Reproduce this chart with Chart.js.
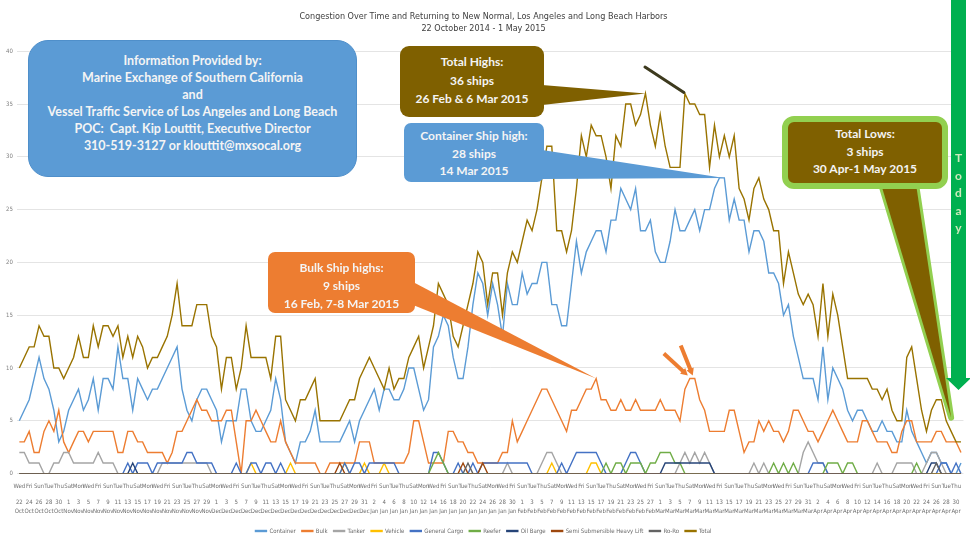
<!DOCTYPE html>
<html>
<head>
<meta charset="utf-8">
<title>Congestion Over Time, Los Angeles and Long Beach Harbors</title>
<script src="https://cdn.jsdelivr.net/npm/chart.js@4.4.1/dist/chart.umd.min.js"></script>
<style>
  html, body { margin: 0; padding: 0; background: #fff; }
  #wrap { position: relative; width: 970px; height: 546px; overflow: hidden; }
  .box {
    position: absolute; box-sizing: border-box; color: #f4f4f4;
    font-family: Lato, "Open Sans", sans-serif; font-weight: 700;
    text-align: center; white-space: nowrap;
  }
  #info { left: 28px; top: 40px; width: 329px; height: 137px; background: #5b9bd5;
          border: 1px solid #4f8fca; border-radius: 20px; font-size: 12.5px; line-height: 17px; padding-top: 11px; }
  #totalHigh { left: 400px; top: 46px; width: 144px; height: 71px; background: #7f6000;
               border-radius: 9px; font-size: 12px; line-height: 18.5px; padding-top: 7px; }
  #containerHigh { left: 404px; top: 123px; width: 140px; height: 59px; background: #5b9bd5;
                   border-radius: 7px; font-size: 12px; line-height: 17.5px; padding-top: 4px; }
  #bulkHigh { left: 268px; top: 252px; width: 147px; height: 61px; background: #ed7d31;
              border-radius: 7px; font-size: 12px; line-height: 18px; padding-top: 7px; }
  #totalLow { left: 782px; top: 116px; width: 166px; height: 73px; background: #7f6000;
              border: 6px solid #92d050; border-radius: 12px; font-size: 12px; line-height: 17.5px; padding-top: 3px; }
  #today { left: 951px; top: 149px; width: 15px; font-size: 12px; line-height: 17.5px; color: #cdeabb; }
</style>
</head>
<body>
<div id="wrap">
  <canvas id="harborChart" width="970" height="546"></canvas>
  <div class="box" id="info">Information Provided by:<br>Marine Exchange of Southern California<br>and<br>Vessel Traffic Service of Los Angeles and Long Beach<br>POC:&nbsp; Capt. Kip Louttit, Executive Director<br>310-519-3127 or klouttit@mxsocal.org</div>
  <div class="box" id="totalHigh">Total Highs:<br>36 ships<br>26 Feb &amp; 6 Mar 2015</div>
  <div class="box" id="containerHigh">Container Ship high:<br>28 ships<br>14 Mar 2015</div>
  <div class="box" id="bulkHigh">Bulk Ship highs:<br>9 ships<br>16 Feb, 7-8 Mar 2015</div>
  <div class="box" id="totalLow">Total Lows:<br>3 ships<br>30 Apr-1 May 2015</div>
  <div class="box" id="today">T<br>o<br>d<br>a<br>y</div>
</div>
<script>
// one point per day, 22 Oct 2014 .. 1 May 2015
const startDay = Date.UTC(2014, 9, 22);
const dayCount = 192;
const weekdayNames = ['Sun', 'Mon', 'Tue', 'Wed', 'Thu', 'Fri', 'Sat'];
const monthNames = ['Jan', 'Feb', 'Mar', 'Apr', 'May', 'Jun', 'Jul', 'Aug', 'Sep', 'Oct', 'Nov', 'Dec'];
const yTicks = [0, 5, 10, 15, 20, 25, 30, 35, 40];

const seriesNames = ['Container', 'Bulk', 'Tanker', 'Vehicle', 'General Cargo', 'Reefer',
  'Oil Barge', 'Semi Submersible Heavy Lift', 'Ro-Ro', 'Total'];
const seriesColors = ['#5b9bd5', '#ed7d31', '#a5a5a5', '#ffc000', '#4472c4', '#70ad47',
  '#264478', '#9e480e', '#636363', '#997300'];

const container = [
  5,6,7,9,11,9,8,6,3,4,
  6,7,8,6,7,9,6,9,9,8,
  12,9,9,6,9,8,7,8,8,9,
  10,11,12,8,6,5,7,8,8,7,
  6,3,5,5,5,8,8,5,4,4,
  5,6,9,7,3,2,1,3,3,4,
  6,3,3,3,3,3,4,5,3,5,
  6,7,8,6,8,8,7,7,8,10,
  10,8,6,7,12,13,15,14,11,9,
  9,12,16,19,18,15,18,16,13,18,
  16,16,19,17,18,18,20,20,16,16,
  14,14,18,22,19,21,22,23,23,21,
  24,24,27,26,25,27,23,23,24,21,
  20,20,22,25,23,23,24,25,23,25,
  25,27,28,28,24,26,24,24,21,23,
  23,22,19,19,18,15,16,13,11,9,
  9,9,7,12,7,10,9,8,6,5,
  6,6,5,4,4,5,4,4,3,3,
  6,4,3,2,1,2,2,1,1,0,
  0,1
];
const bulk = [
  3,3,4,2,2,4,5,4,6,3,
  2,3,4,4,3,4,4,4,4,4,
  2,2,4,4,3,3,2,2,2,2,
  1,2,4,4,5,6,7,6,6,5,
  5,5,6,6,3,0,5,5,6,5,
  4,3,3,5,3,2,1,1,1,1,
  1,0,0,1,1,1,1,1,1,3,
  3,3,1,1,1,1,1,1,1,2,
  5,5,3,1,1,1,1,4,4,3,
  3,2,2,1,1,1,1,1,2,2,
  5,3,4,5,6,7,8,8,7,6,
  5,4,6,6,7,8,8,9,7,7,
  6,6,7,6,6,7,6,6,6,6,
  7,6,6,6,5,8,9,9,7,6,
  4,4,4,4,6,6,4,2,3,3,
  5,4,5,4,4,3,4,6,6,5,
  4,4,3,4,5,6,5,4,3,3,
  3,5,5,4,3,3,3,2,2,4,
  5,5,3,3,3,3,4,4,3,3,
  3,2
];
const tanker = [
  2,2,1,1,1,0,0,1,1,2,
  2,1,1,1,1,1,2,1,1,1,
  0,0,0,0,0,0,0,0,0,1,
  1,1,1,1,1,1,1,1,1,0,
  0,0,0,0,0,0,0,0,0,0,
  0,0,0,0,0,0,0,0,0,0,
  0,0,0,0,0,0,0,0,0,0,
  0,0,0,0,0,0,0,0,0,0,
  0,0,0,0,0,0,0,0,0,0,
  0,0,0,0,0,0,0,0,0,1,
  0,0,0,0,0,0,1,2,2,1,
  0,0,0,0,0,0,0,0,0,0,
  0,0,0,0,0,0,0,0,0,0,
  0,0,0,0,1,2,1,2,1,2,
  1,0,0,0,0,0,0,0,0,1,
  0,1,0,0,0,0,0,0,0,2,
  3,2,1,1,0,0,0,0,0,0,
  0,0,0,0,1,0,0,0,1,1,
  1,1,0,0,1,2,2,1,0,0,
  0,0
];
const vehicle = [
  0,0,0,0,0,0,0,0,0,0,
  0,0,0,0,0,0,0,0,0,0,
  0,0,0,0,0,0,0,0,0,0,
  0,0,0,0,0,0,0,0,0,0,
  0,0,0,0,0,0,0,1,0,0,
  0,0,0,0,0,1,0,0,0,0,
  0,0,0,0,0,0,1,0,0,0,
  1,0,0,0,1,0,0,0,0,0,
  0,0,0,0,0,0,0,0,0,0,
  0,0,0,0,0,0,0,0,0,0,
  0,0,0,0,0,0,0,0,1,0,
  0,0,0,0,0,0,1,1,0,0,
  0,0,0,0,0,0,0,0,0,0,
  0,0,0,0,0,0,0,0,0,0,
  0,0,0,0,0,0,0,0,0,0,
  0,0,0,0,0,0,0,0,0,0,
  0,0,0,0,0,0,0,0,0,0,
  0,0,0,0,0,0,0,0,0,0,
  0,0,0,0,0,0,0,0,0,0,
  0,0
];
const generalCargo = [
  0,0,0,0,0,0,0,0,0,0,
  0,0,0,0,0,0,0,0,0,0,
  0,0,1,0,1,1,1,0,1,1,
  1,1,1,1,2,2,1,1,1,1,
  0,0,0,0,1,0,0,1,1,0,
  1,1,0,1,0,0,0,0,0,0,
  0,0,0,0,0,0,1,0,1,1,
  0,1,1,1,1,1,1,0,0,0,
  0,0,0,0,2,2,1,0,0,1,
  0,0,1,0,1,1,1,1,1,1,
  1,1,1,1,0,0,0,0,0,0,
  1,0,1,2,2,2,2,2,1,0,
  0,0,0,1,2,2,1,0,0,0,
  0,0,0,0,0,0,0,0,0,0,
  0,0,0,0,0,0,0,0,0,0,
  0,0,0,0,0,0,0,0,0,0,
  0,1,1,1,0,0,0,0,0,0,
  0,0,0,0,0,0,0,0,0,0,
  0,0,0,0,0,0,0,1,1,0,
  1,0
];
const reefer = [
  0,0,0,0,0,0,0,0,0,0,
  0,0,0,0,0,0,0,0,0,0,
  0,0,0,0,0,0,0,0,0,0,
  0,0,0,0,0,0,0,0,0,0,
  0,0,0,0,0,0,0,0,0,0,
  0,0,0,0,0,0,0,0,0,0,
  0,0,0,0,0,0,0,0,0,0,
  0,0,0,0,0,0,0,0,0,0,
  0,0,0,0,1,2,1,0,0,0,
  0,0,0,0,0,0,0,0,0,0,
  0,0,0,0,0,0,0,0,0,0,
  0,0,0,0,0,0,0,0,0,1,
  0,1,1,0,1,1,1,0,1,1,
  2,2,2,1,1,0,0,0,0,0,
  0,0,0,0,0,0,0,0,0,0,
  0,0,0,1,0,1,0,1,0,0,
  0,0,0,0,1,1,1,0,1,1,
  0,0,0,0,0,0,0,0,0,0,
  0,0,1,0,0,0,0,0,0,0,
  0,0
];
const oilBarge = [
  0,0,0,0,0,0,0,0,0,0,
  0,0,0,0,0,0,0,0,0,0,
  0,0,0,1,0,0,0,0,0,0,
  0,0,0,0,0,0,0,0,0,0,
  0,0,0,0,0,0,0,0,0,0,
  0,0,0,0,0,0,0,0,0,0,
  0,0,0,0,0,0,0,0,0,0,
  0,0,0,0,0,0,0,0,0,0,
  0,0,0,0,0,0,0,0,0,0,
  0,0,0,0,0,0,0,0,0,0,
  0,0,0,0,0,0,0,0,0,0,
  0,0,0,0,0,0,0,0,0,0,
  0,0,0,0,0,0,0,0,0,0,
  0,1,1,1,1,1,1,1,1,1,
  1,0,0,0,0,0,0,0,0,0,
  0,0,0,0,0,0,0,0,0,0,
  0,0,0,0,0,0,0,0,0,0,
  0,0,0,0,0,0,0,0,0,0,
  0,0,0,0,0,1,1,0,0,0,
  0,0
];
const semiSub = [
  0,0,0,0,0,0,0,0,0,0,
  0,0,0,0,0,0,0,0,0,0,
  0,0,0,0,0,0,0,0,0,0,
  0,0,0,0,0,0,0,0,0,0,
  0,0,0,0,0,0,0,0,0,0,
  0,0,0,0,0,0,0,0,0,0,
  0,0,0,0,0,1,0,0,0,0,
  0,0,0,0,0,0,0,0,0,0,
  0,0,0,0,0,0,0,0,0,0,
  1,0,0,0,1,0,0,0,0,0,
  0,0,0,0,0,0,0,0,0,0,
  0,0,0,0,0,0,0,0,0,0,
  0,0,0,0,0,0,0,0,0,0,
  0,0,0,0,0,0,0,0,0,0,
  0,0,0,0,0,0,0,0,0,0,
  0,0,0,0,0,0,0,0,0,0,
  0,0,0,0,0,0,0,0,0,0,
  0,0,0,0,0,0,0,0,0,0,
  0,0,0,0,0,0,0,0,0,0,
  0,0
];
const roRo = [
  0,0,0,0,0,0,0,0,0,0,
  0,0,0,0,0,0,0,0,0,0,
  0,0,0,0,0,0,0,0,0,0,
  0,0,0,0,0,0,0,0,0,0,
  0,0,0,0,0,0,0,0,0,0,
  0,0,0,0,0,0,0,0,0,0,
  0,0,0,0,0,0,0,0,0,0,
  0,0,0,0,0,0,0,0,0,0,
  0,0,0,0,0,0,0,0,0,0,
  0,1,0,0,0,0,0,0,0,0,
  0,0,0,0,0,0,0,0,0,0,
  0,0,0,0,0,0,0,0,0,0,
  0,0,0,0,0,0,0,0,0,0,
  0,0,0,0,0,0,0,0,0,0,
  0,0,0,0,0,0,0,0,0,0,
  0,0,0,0,0,0,0,0,0,0,
  0,0,0,0,0,0,0,0,0,0,
  0,0,0,0,0,0,0,0,0,0,
  0,0,0,0,0,0,1,0,0,0,
  0,0
];
const total = [
  10,11,12,12,14,13,13,10,10,9,
  10,11,13,11,11,14,12,14,14,13,
  14,11,13,11,13,12,10,11,11,12,
  13,15,18,14,14,14,16,16,16,13,
  12,8,11,11,8,10,14,11,11,11,
  11,9,13,13,7,6,5,7,7,8,
  9,5,5,5,5,5,6,7,7,9,
  10,11,10,9,8,10,8,9,9,11,
  12,13,10,12,14,18,17,16,13,12,
  14,16,18,21,20,16,19,19,15,19,
  21,20,22,24,23,25,28,31,31,23,
  23,21,23,27,32,30,33,32,32,30,
  27,32,31,35,35,33,34,36,33,31,
  34,31,29,29,29,36,35,35,34,34,
  29,33,30,32,30,32,27,26,24,27,
  28,26,25,23,23,18,21,19,17,16,
  17,16,13,18,13,17,15,12,9,9,
  9,9,9,8,8,7,8,6,5,5,
  11,12,9,6,4,6,7,7,5,4,
  3,3
];
const seriesData = [container, bulk, tanker, vehicle, generalCargo, reefer, oilBarge, semiSub, roRo, total];

// x labels: weekday, gap, day number, month
const days = [];
for (let i = 0; i < dayCount; i++) {
  const d = new Date(startDay + i * 86400000);
  days.push([weekdayNames[d.getUTCDay()], '', String(d.getUTCDate()), monthNames[d.getUTCMonth()]]);
}

const narrow = "'Liberation Sans Narrow', 'DejaVu Sans Condensed', sans-serif";

// callout pointers, tip given in data units so it follows the scales
const wedges = [
  { color: '#7f6000', base: [[542, 85], [542, 105]], tip: [127, 36] },
  { color: '#5b9bd5', base: [[542, 150], [542, 179]], tip: [143, 28] },
  { color: '#ed7d31', base: [[413, 282], [413, 305]], tip: [117, 9] }
];

const calloutPlugin = {
  id: 'callouts',
  afterDatasetsDraw(chart) {
    const ctx = chart.ctx;
    const xs = chart.scales.x, ys = chart.scales.y;
    const px = (i, v) => [xs.getPixelForValue(i), ys.getPixelForValue(v)];
    ctx.save();

    wedges.forEach(w => {
      const t = px(w.tip[0], w.tip[1]);
      ctx.beginPath();
      ctx.moveTo(w.base[0][0], w.base[0][1]);
      ctx.lineTo(t[0], t[1]);
      ctx.lineTo(w.base[1][0], w.base[1][1]);
      ctx.closePath();
      ctx.fillStyle = w.color;
      ctx.fill();
    });

    // dark line to the second total high (6 Mar)
    const p2 = px(135, 36);
    ctx.beginPath();
    ctx.moveTo(645, 67);
    ctx.lineTo(p2[0] - 1, p2[1] - 1);
    ctx.strokeStyle = '#3d3a1e';
    ctx.lineWidth = 3;
    ctx.lineCap = 'round';
    ctx.stroke();

    // orange arrows at the 7-8 Mar bulk highs
    [[136, -26, -25], [137, -14, -33]].forEach(a => {
      const p = px(a[0], 9);
      const ex = p[0] - 2, ey = p[1] - 3;
      const sx = p[0] + a[1], sy = p[1] + a[2];
      const ang = Math.atan2(ey - sy, ex - sx);
      ctx.beginPath();
      ctx.moveTo(sx, sy);
      ctx.lineTo(ex - 4 * Math.cos(ang), ey - 4 * Math.sin(ang));
      ctx.strokeStyle = '#ed7d31';
      ctx.lineWidth = 4;
      ctx.lineCap = 'butt';
      ctx.stroke();
      ctx.beginPath();
      ctx.moveTo(ex, ey);
      ctx.lineTo(ex - 8 * Math.cos(ang - 0.5), ey - 8 * Math.sin(ang - 0.5));
      ctx.lineTo(ex - 8 * Math.cos(ang + 0.5), ey - 8 * Math.sin(ang + 0.5));
      ctx.closePath();
      ctx.fillStyle = '#ed7d31';
      ctx.fill();
    });

    // total lows pointer with green outline
    const low = px(189, 5.3);
    ctx.beginPath();
    ctx.moveTo(881, 184);
    ctx.lineTo(low[0], low[1]);
    ctx.lineTo(916, 184);
    ctx.closePath();
    ctx.lineJoin = 'round';
    ctx.strokeStyle = '#92d050';
    ctx.lineWidth = 6;
    ctx.stroke();
    ctx.fillStyle = '#7f6000';
    ctx.fill();

    // "Today" arrow
    ctx.beginPath();
    ctx.moveTo(951, 0);
    ctx.lineTo(966, 0);
    ctx.lineTo(966, 378);
    ctx.lineTo(971, 378);
    ctx.lineTo(958.5, 390);
    ctx.lineTo(946, 378);
    ctx.lineTo(951, 378);
    ctx.closePath();
    ctx.fillStyle = '#00b050';
    ctx.fill();

    ctx.restore();
  }
};

const datasets = seriesNames.map((name, k) => ({
  label: name,
  data: seriesData[k],
  borderColor: seriesColors[k],
  backgroundColor: seriesColors[k],
  borderWidth: 1.4,
  pointRadius: 0,
  tension: 0,
  order: seriesNames.length - 1 - k
}));

new Chart(document.getElementById('harborChart'), {
  type: 'line',
  data: { labels: days, datasets: datasets },
  options: {
    responsive: false,
    animation: false,
    layout: { padding: { left: 2, right: 5, bottom: 2 } },
    plugins: {
      title: {
        display: true,
        text: ['Congestion Over Time and Returning to New Normal, Los Angeles and Long Beach Harbors',
               '22 October 2014 - 1 May 2015'],
        color: '#404040',
        font: { family: narrow, size: 9, weight: 'normal', lineHeight: 1.4 },
        padding: { top: 10, bottom: 16 }
      },
      legend: {
        position: 'bottom',
        labels: {
          boxWidth: 11, boxHeight: 1, padding: 6, color: '#6a6a6a',
          font: { family: narrow, size: 6 },
          sort: (a, b) => a.datasetIndex - b.datasetIndex
        }
      },
      tooltip: { enabled: false }
    },
    scales: {
      x: {
        offset: true,
        grid: { display: false, drawTicks: false },
        border: { display: false },
        afterFit: axis => { axis.height -= 2; },
        ticks: {
          autoSkip: false, maxRotation: 0, minRotation: 0, padding: 9,
          color: '#6f6f6f',
          font: { family: narrow, size: 6, lineHeight: 1.35 },
          callback: function (value, index) {
            return index % 2 === 0 ? this.getLabelForValue(value) : '';
          }
        }
      },
      y: {
        min: 0, max: 40,
        afterBuildTicks: axis => { axis.ticks = yTicks.map(v => ({ value: v })); },
        ticks: { color: '#7f7f7f', font: { family: narrow, size: 6 }, padding: 4 },
        grid: { color: '#e4e4e4', drawTicks: false },
        border: { display: false }
      }
    }
  },
  plugins: [calloutPlugin]
});
</script>
</body>
</html>
